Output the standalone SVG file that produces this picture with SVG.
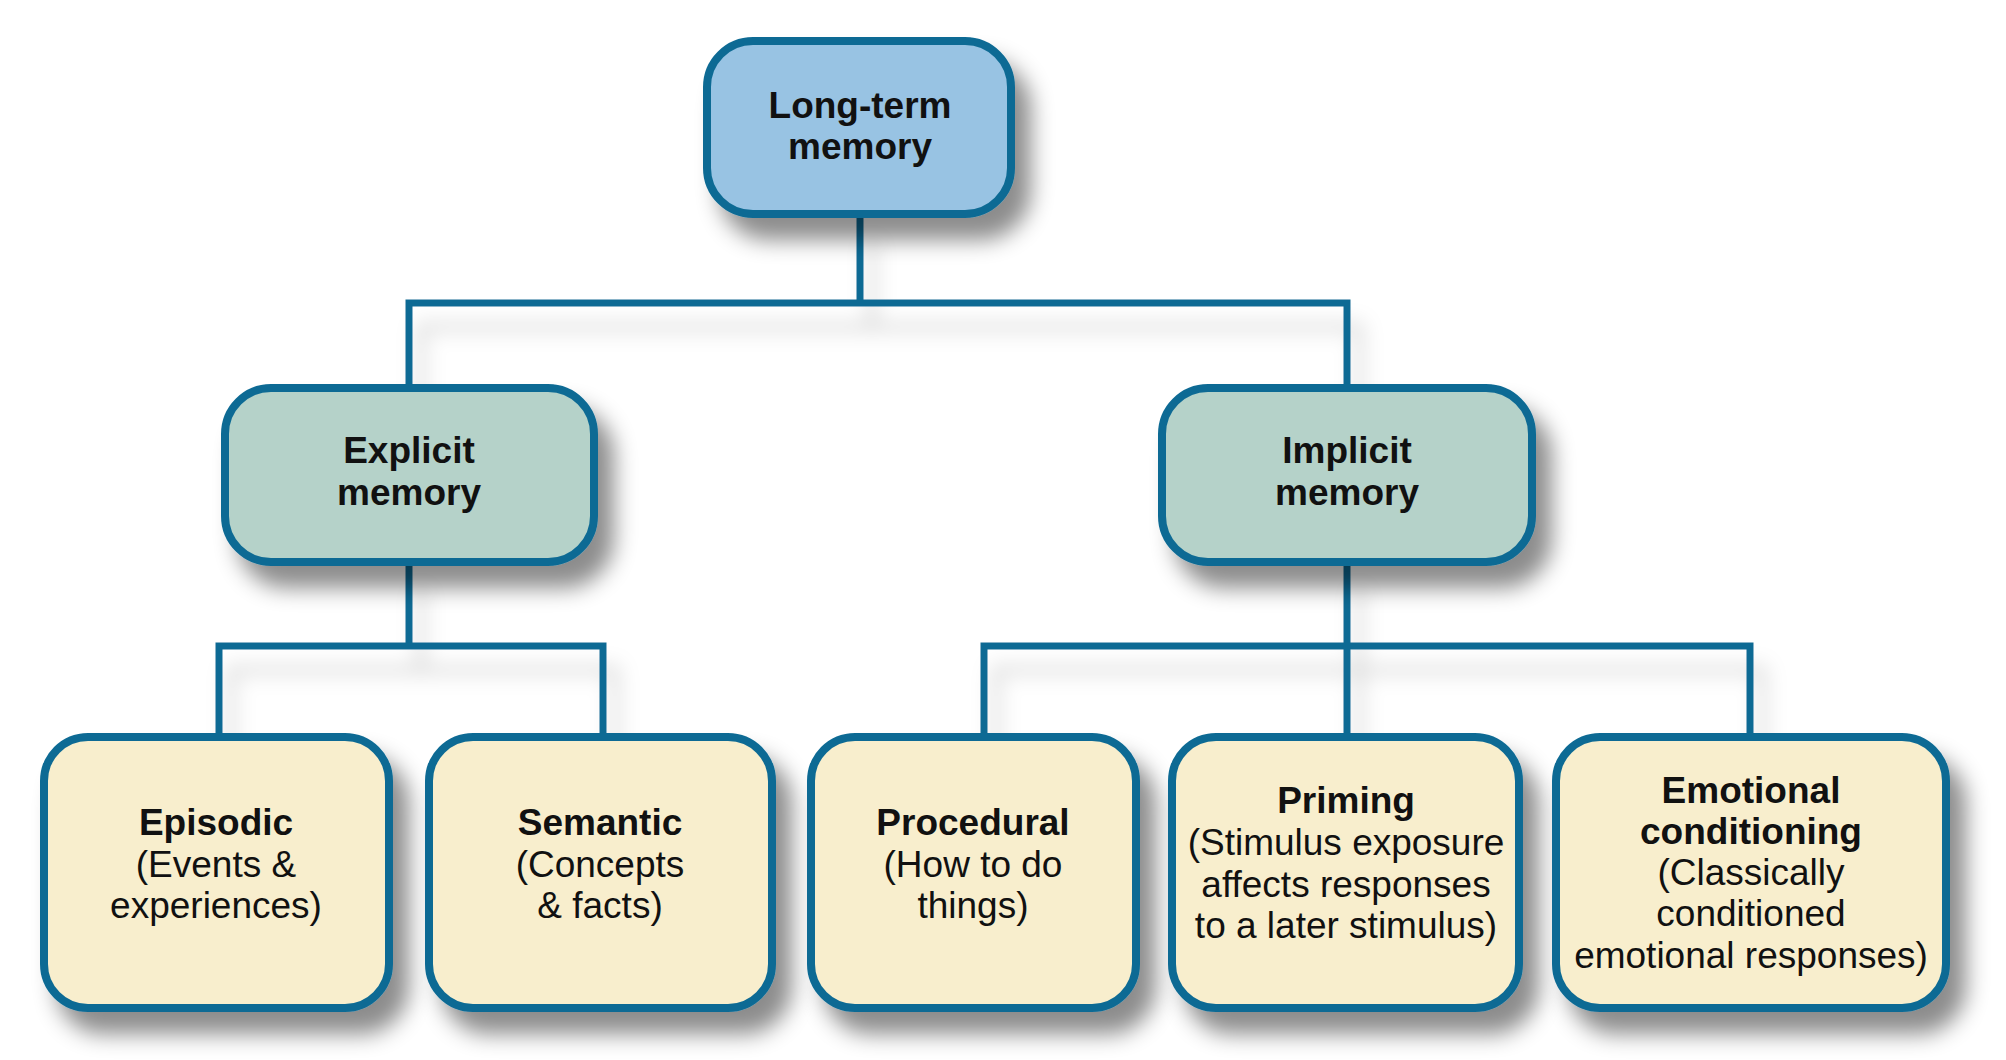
<svg xmlns="http://www.w3.org/2000/svg" width="2006" height="1060" viewBox="0 0 2006 1060">
  <defs>
    <filter id="shadow" x="-20%" y="-20%" width="150%" height="170%">
      <feDropShadow dx="16" dy="22" stdDeviation="11" flood-color="#000" flood-opacity="0.45"/>
    </filter>
    <filter id="lshadow" x="-20%" y="-50%" width="140%" height="300%">
      <feDropShadow dx="12" dy="24" stdDeviation="10" flood-color="#000" flood-opacity="0.18"/>
    </filter>
    <style>
      .box { stroke: #0f6b94; stroke-width: 8; filter: url(#shadow); }
      .top { fill: #98c3e3; }
      .mid { fill: #b5d2c9; }
      .leaf { fill: #f8eecd; }
      .conn { fill: none; stroke: #0f6b94; stroke-width: 7; stroke-linejoin: miter; stroke-linecap: butt; }
      text { font-family: "Liberation Sans", Arial, Helvetica, sans-serif; font-size: 37px; fill: #111; text-anchor: middle; }
      .b { font-weight: bold; }
    </style>
  </defs>
  <rect width="2006" height="1060" fill="#ffffff"/>

  <g id="connectors" filter="url(#lshadow)">
    <path class="conn" d="M860 218 V303 M409 384 V303 H1347 V384"/>
    <path class="conn" d="M409 566 V646 M219 733 V646 H603 V733"/>
    <path class="conn" d="M1347 566 V733 M984 733 V646 H1750 V733"/>
  </g>

  <g id="long-term">
    <rect class="box top" x="707" y="41" width="304" height="173" rx="46"/>
    <text class="b" x="860" y="118">Long-term</text>
    <text class="b" x="860" y="159">memory</text>
  </g>

  <g id="explicit">
    <rect class="box mid" x="225" y="388" width="369" height="174" rx="46"/>
    <text class="b" x="409" y="463">Explicit</text>
    <text class="b" x="409" y="505">memory</text>
  </g>

  <g id="implicit">
    <rect class="box mid" x="1162" y="388" width="370" height="174" rx="46"/>
    <text class="b" x="1347" y="463">Implicit</text>
    <text class="b" x="1347" y="505">memory</text>
  </g>

  <g id="episodic">
    <rect class="box leaf" x="44" y="737" width="345" height="271" rx="44"/>
    <text class="b" x="216" y="835">Episodic</text>
    <text x="216" y="877">(Events &amp;</text>
    <text x="216" y="918">experiences)</text>
  </g>

  <g id="semantic">
    <rect class="box leaf" x="429" y="737" width="343" height="271" rx="44"/>
    <text class="b" x="600" y="835">Semantic</text>
    <text x="600" y="877">(Concepts</text>
    <text x="600" y="918">&amp; facts)</text>
  </g>

  <g id="procedural">
    <rect class="box leaf" x="811" y="737" width="325" height="271" rx="44"/>
    <text class="b" x="973" y="835">Procedural</text>
    <text x="973" y="877">(How to do</text>
    <text x="973" y="918">things)</text>
  </g>

  <g id="priming">
    <rect class="box leaf" x="1172" y="737" width="347" height="271" rx="44"/>
    <text class="b" x="1346" y="813">Priming</text>
    <text x="1346" y="855">(Stimulus exposure</text>
    <text x="1346" y="897">affects responses</text>
    <text x="1346" y="938">to a later stimulus)</text>
  </g>

  <g id="emotional">
    <rect class="box leaf" x="1556" y="737" width="390" height="271" rx="44"/>
    <text class="b" x="1751" y="803">Emotional</text>
    <text class="b" x="1751" y="844">conditioning</text>
    <text x="1751" y="885">(Classically</text>
    <text x="1751" y="926">conditioned</text>
    <text x="1751" y="968">emotional responses)</text>
  </g>
</svg>
